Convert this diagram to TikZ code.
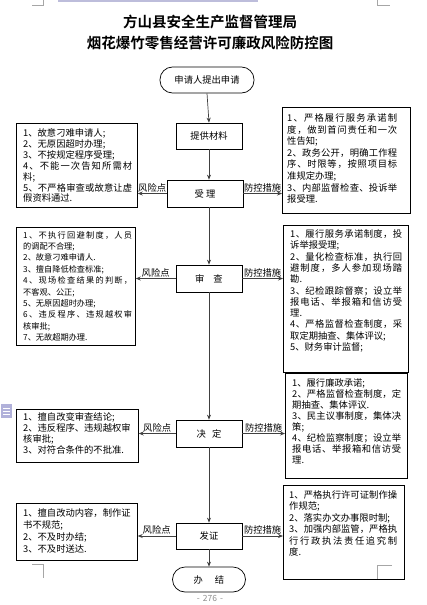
\documentclass[tikz,border=0pt]{standalone}
\usepackage{fontspec}
\setmainfont{Noto Sans CJK SC}[BoldFont={Noto Sans CJK SC Bold}]
\usetikzlibrary{arrows.meta}

% full line, spread over the box width
\newcommand\fl[1]{\leavevmode\hbox to\hsize{\flx#1\relax}}
\def\flx#1{#1\futurelet\flnext\fly}
\def\fly{\ifx\flnext\relax\expandafter\flgob\else\hfil\expandafter\flx\fi}
\def\flgob#1{}

\tikzset{
  stepbox/.style={draw, line width=0.7pt, minimum width=66pt, minimum height=26pt, inner sep=0pt, font=\fontsize{9.3}{11}\selectfont},
  ovalbox/.style={stepbox, rounded corners=12.5pt},
  sidebox/.style={draw, line width=0.7pt, anchor=north west, inner sep=0pt},
  sidetext/.style={anchor=north west, inner sep=0pt, align=left, font=\fontsize{9.3}{#1}\selectfont},
  flow/.style={draw=black!75, line width=0.7pt, -{Stealth[length=5pt,width=4pt]}},
  tag/.style={midway, above, inner sep=1pt, font=\fontsize{9.3}{9.3}\selectfont},
  pagemark/.style={draw=black!35, line width=0.6pt}
}

\begin{document}
\begin{tikzpicture}[x=1pt,y=-1pt]
\useasboundingbox (0,0) rectangle (426,605);

% page marks
\fill[blue!30!gray!40] (58,0) rectangle (258,2);
\draw[pagemark] (32,5)--(43,5)--(43,0)  (377,0)--(377,5)--(390,5);
\draw[pagemark] (32,564)--(43,564)--(43,578)  (392,565)--(377,565)--(377,579);
\fill[blue!35!gray!45] (1,404) rectangle (12,418);
\draw[white, line width=0.8pt] (3,408)--(10,408) (3,411)--(10,411) (3,414)--(10,414);

\node[font=\bfseries\fontsize{14.5}{14.5}\selectfont] (title1) at (210,22) {方山县安全生产监督管理局};
\node[font=\bfseries\fontsize{14.5}{14.5}\selectfont] (title2) at (210,43) {烟花爆竹零售经营许可廉政风险防控图};

% main steps
\node[ovalbox, minimum width=94pt] (apply) at (207,80) {申请人提出申请};
\node[stepbox] (cl) at (209,136) {提供材料};
\node[stepbox, minimum width=76pt, minimum height=27pt] (sl) at (205,193.5) {受\hspace{2pt}理};
\node[stepbox, minimum height=27pt] (sc) at (209,278.5) {审\hspace{9pt}查};
\node[stepbox, minimum height=27pt] (jd) at (209,433.5) {决\hspace{6pt}定};
\node[stepbox] (fz) at (209,536) {发证};
\node[ovalbox, minimum width=73pt, minimum height=25pt] (bj) at (209,579.5) {办\hspace{12pt}结};
\node[text=black!45, font=\fontsize{8.5}{8.5}\selectfont] (page) at (210,598) {-\hspace{3pt}276\hspace{3pt}-};

% risk points
\node[sidebox, minimum width=121pt, minimum height=84pt] (r1) at (16,123) {};
\node[sidetext=10.9, text width=109pt] (r1t) at (23,128.5) {1、故意刁难申请人;\\2、无原因超时办理;\\3、不按规定程序受理;\\\fl{4、不能一次告知所需材}\\料;\\\fl{5、不严格审查或故意让虚}\\假资料通过.};

\node[sidebox, minimum width=119pt, minimum height=118pt] (r2) at (16,227) {};
\node[sidetext=11.4, text width=109pt, font=\fontsize{8.2}{11.4}\selectfont] (r2t) at (23,231) {\fl{1、不执行回避制度，人员}\\的调配不合理;\\2、故意刁难申请人.\\3、擅自降低检查标准;\\\fl{4、现场检查结果的判断，}\\不客观、公正;\\5、无原因超时办理;\\\fl{6、违反程序、违规越权审}\\核审批;\\7、无故超期办理.};

\node[sidebox, minimum width=122pt, minimum height=53pt] (r3) at (16,409) {};
\node[sidetext=10.8, text width=106pt] (r3t) at (23,412.5) {1、擅自改变审查结论;\\\fl{2、违反程序、违规越权审}\\核审批;\\3、对符合条件的不批准.};

\node[sidebox, minimum width=121pt, minimum height=57pt] (r4) at (16,503) {};
\node[sidetext=12, text width=107pt] (r4t) at (23,508.5) {\fl{1、擅自改动内容，制作证}\\书不规范;\\2、不及时办结;\\3、不及时送达.};

% control measures
\node[sidebox, minimum width=128pt, minimum height=106pt] (c1) at (282,107) {};
\node[sidetext=11.6, text width=110pt] (c1t) at (287,113.5) {\fl{1、严格履行服务承诺制}\\\fl{度，做到首问责任和一次}\\性告知;\\\fl{2、政务公开，明确工作程}\\\fl{序、时限等，按照项目标}\\准规定办理;\\\fl{3、内部监督检查、投诉举}\\报受理.};

\node[sidebox, minimum width=125pt, minimum height=147pt] (c2) at (283,225) {};
\node[sidetext=11.3, text width=112pt] (c2t) at (290,229.5) {\fl{1、履行服务承诺制度，投}\\诉举报受理;\\\fl{2、量化检查标准，执行回}\\\fl{避制度，多人参加现场踏}\\勘.\\\fl{3、纪检跟踪督察；设立举}\\\fl{报电话、举报箱和信访受}\\理.\\\fl{4、严格监督检查制度，采}\\取定期抽查、集体评议;\\5、财务审计监督;};

\node[sidebox, minimum width=122pt, minimum height=105pt] (c3) at (285,373) {};
\node[sidetext=11, text width=109pt] (c3t) at (292,378.5) {1、履行廉政承诺;\\\fl{2、严格监督检查制度，定}\\期抽查、集体评议.\\\fl{3、民主议事制度，集体决}\\策;\\\fl{4、纪检监察制度；设立举}\\\fl{报电话、举报箱和信访受}\\理.};

\node[sidebox, minimum width=121pt, minimum height=94pt] (c4) at (283,485) {};
\node[sidetext=11.4, text width=108pt] (c4t) at (289,490.5) {\fl{1、严格执行许可证制作操}\\作规范;\\2、落实办文办事限时制;\\\fl{3、加强内部监管，严格执}\\\fl{行行政执法责任追究制}\\度.};

% connectors
\draw[flow] (apply.south) -- (cl.north);
\draw[flow] (cl.south) -- (cl.south |- sl.north);
\draw[flow] (cl.south |- sl.south) -- (sc.north);
\draw[flow] (sc.south) -- (jd.north);
\draw[flow] (jd.south) -- (fz.north);
\draw[flow] (fz.south) -- (bj.north);

\draw[flow] (sl.west) -- (sl.west -| r1.east) node[tag]{风险点};
\draw[flow] (sl.east) -- (sl.east -| c1.west) node[tag]{防控措施};
\draw[flow] (sc.west) -- (sc.west -| r2.east) node[tag]{风险点};
\draw[flow] (sc.east) -- (sc.east -| c2.west) node[tag]{防控措施};
\draw[flow] (jd.west) -- (jd.west -| r3.east) node[tag]{风险点};
\draw[flow] (jd.east) -- (jd.east -| c3.west) node[tag]{防控措施};
\draw[flow] (fz.west) -- (fz.west -| r4.east) node[tag]{风险点};
\draw[flow] (fz.east) -- (fz.east -| c4.west) node[tag]{防控措施};
\end{tikzpicture}
\end{document}
